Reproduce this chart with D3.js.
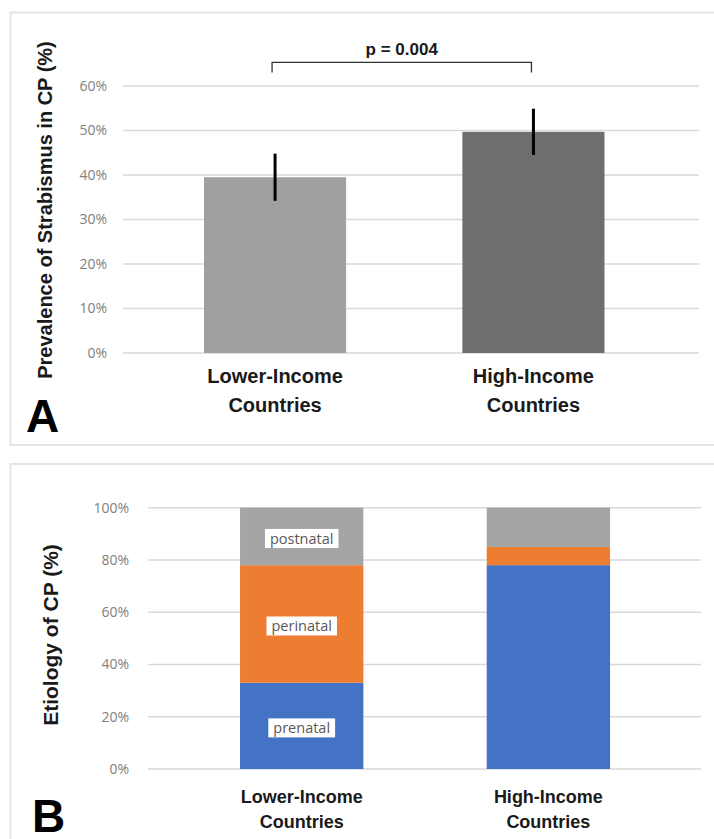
<!DOCTYPE html>
<html>
<head>
<meta charset="utf-8">
<script src="https://cdn.jsdelivr.net/npm/d3@7"></script>
<style>
  body { margin: 0; background: #fff; }
  svg { display: block; }
</style>
</head>
<body>
<svg id="chart"></svg>
<script>
// Panel A data: prevalence of strabismus in CP
const categories = ["Lower-Income Countries", "High-Income Countries"];
const categoryLines = [["Lower-Income", "Countries"], ["High-Income", "Countries"]];
const prevalence = [0.395, 0.497];
const prevalenceErr = [0.053, 0.052];
const prevalenceTicks = [0, 0.1, 0.2, 0.3, 0.4, 0.5, 0.6];
const pValueText = "p = 0.004";
const bracketLevel = 0.653;

// Panel B data: etiology of CP (stacked shares)
const etiologyKeys = ["prenatal", "perinatal", "postnatal"];
const prenatal = [0.33, 0.78];
const perinatal = [0.45, 0.07];
const postnatal = [0.22, 0.15];
const etiologyTicks = [0, 0.2, 0.4, 0.6, 0.8, 1.0];

const width = 714;
const height = 839;
const boldFont = "'Liberation Sans', Arial, sans-serif";
const tickFont = "'Open Sans', 'Liberation Sans', sans-serif";

const svg = d3.select("#chart").attr("width", width).attr("height", height);
svg.append("rect").attr("width", width).attr("height", height).attr("fill", "#fff");

const pct = d3.format(".0%");

// ---------- Panel A ----------
const gA = svg.append("g");
gA.append("rect")
  .attr("x", 10.5).attr("y", 12.5)
  .attr("width", 730).attr("height", 432.5)
  .attr("fill", "none").attr("stroke", "#e4e4e4").attr("stroke-width", 2);

const xA = d3.scaleBand()
  .domain(categories)
  .range([126.5, 682])
  .paddingInner(0.45)
  .paddingOuter(0.3);

const yA = d3.scaleLinear().domain([0, 0.6]).range([353, 86]);

// gridlines
gA.append("g")
  .selectAll("line")
  .data(prevalenceTicks)
  .join("line")
  .attr("x1", 123).attr("x2", 699)
  .attr("y1", d => yA(d)).attr("y2", d => yA(d))
  .attr("stroke", "#d9d9d9").attr("stroke-width", 1.5);

// y axis tick labels
const axisA = gA.append("g")
  .attr("transform", "translate(115,0)")
  .call(d3.axisLeft(yA).tickValues(prevalenceTicks).tickFormat(pct).tickSize(0).tickPadding(8));
axisA.select(".domain").remove();
axisA.selectAll("text")
  .attr("font-family", tickFont).attr("font-size", 14).attr("fill", "#808080");

// bars
const barColorsA = ["#a0a0a0", "#6e6e6e"];
gA.append("g")
  .selectAll("rect")
  .data(categories)
  .join("rect")
  .attr("x", d => xA(d))
  .attr("width", xA.bandwidth())
  .attr("y", (d, i) => yA(prevalence[i]))
  .attr("height", (d, i) => yA(0) - yA(prevalence[i]))
  .attr("fill", (d, i) => barColorsA[i]);

// error bars
gA.append("g")
  .selectAll("line")
  .data(categories)
  .join("line")
  .attr("x1", d => xA(d) + xA.bandwidth() / 2)
  .attr("x2", d => xA(d) + xA.bandwidth() / 2)
  .attr("y1", (d, i) => yA(prevalence[i] - prevalenceErr[i]))
  .attr("y2", (d, i) => yA(prevalence[i] + prevalenceErr[i]))
  .attr("stroke", "#000").attr("stroke-width", 3);

// significance bracket
const bx1 = xA(categories[0]) + xA.bandwidth() / 2 - 3;
const bx2 = xA(categories[1]) + xA.bandwidth() / 2 - 2;
const by = yA(bracketLevel);
gA.append("path")
  .attr("d", `M${bx1},${by + 10}V${by}H${bx2}V${by + 10}`)
  .attr("fill", "none").attr("stroke", "#333").attr("stroke-width", 1.3);
gA.append("text")
  .attr("x", (bx1 + bx2) / 2).attr("y", by - 7)
  .attr("text-anchor", "middle")
  .attr("font-family", boldFont).attr("font-weight", "bold").attr("font-size", 17)
  .attr("fill", "#1a1a1a")
  .text(pValueText);

// category labels
gA.append("g")
  .selectAll("text")
  .data(categories)
  .join("text")
  .attr("text-anchor", "middle")
  .attr("font-family", boldFont).attr("font-weight", "bold").attr("font-size", 20)
  .attr("fill", "#1a1a1a")
  .each(function (d, i) {
    const cx = xA(d) + xA.bandwidth() / 2;
    d3.select(this).selectAll("tspan")
      .data(categoryLines[i])
      .join("tspan")
      .attr("x", cx)
      .attr("y", (t, j) => 383 + j * 29)
      .text(t => t);
  });

// y axis title
gA.append("text")
  .attr("transform", "translate(52,210) rotate(-90)")
  .attr("text-anchor", "middle")
  .attr("font-family", boldFont).attr("font-weight", "bold").attr("font-size", 20)
  .attr("fill", "#1a1a1a")
  .text("Prevalence of Strabismus in CP (%)");

gA.append("text")
  .attr("x", 26).attr("y", 432)
  .attr("font-family", boldFont).attr("font-weight", "bold").attr("font-size", 46)
  .attr("fill", "#000")
  .text("A");

// ---------- Panel B ----------
const gB = svg.append("g");
gB.append("rect")
  .attr("x", 10.5).attr("y", 464)
  .attr("width", 730).attr("height", 420)
  .attr("fill", "none").attr("stroke", "#e4e4e4").attr("stroke-width", 2);

const xB = d3.scaleBand()
  .domain(categories)
  .range([153.7, 696.4])
  .paddingInner(0.5)
  .paddingOuter(0.35);

const yB = d3.scaleLinear().domain([0, 1]).range([769, 507.7]);

gB.append("g")
  .selectAll("line")
  .data(etiologyTicks)
  .join("line")
  .attr("x1", 148).attr("x2", 701)
  .attr("y1", d => yB(d)).attr("y2", d => yB(d))
  .attr("stroke", "#d9d9d9").attr("stroke-width", 1.5);

const axisB = gB.append("g")
  .attr("transform", "translate(137,0)")
  .call(d3.axisLeft(yB).tickValues(etiologyTicks).tickFormat(pct).tickSize(0).tickPadding(8));
axisB.select(".domain").remove();
axisB.selectAll("text")
  .attr("font-family", tickFont).attr("font-size", 14).attr("fill", "#808080");

const etiologyRows = categories.map((c, i) => ({
  category: c,
  prenatal: prenatal[i],
  perinatal: perinatal[i],
  postnatal: postnatal[i]
}));
const stacked = d3.stack().keys(etiologyKeys)(etiologyRows);
const colorB = d3.scaleOrdinal()
  .domain(etiologyKeys)
  .range(["#4472c4", "#ed7d31", "#a5a5a5"]);

gB.append("g")
  .selectAll("g")
  .data(stacked)
  .join("g")
  .attr("fill", d => colorB(d.key))
  .selectAll("rect")
  .data(d => d)
  .join("rect")
  .attr("x", d => xB(d.data.category))
  .attr("width", xB.bandwidth())
  .attr("y", d => yB(d[1]))
  .attr("height", d => yB(d[0]) - yB(d[1]));

// segment labels on first bar
const labelG = gB.append("g");
stacked.forEach(layer => {
  const seg = layer[0];
  const cx = xB(seg.data.category) + xB.bandwidth() / 2;
  const cy = (yB(seg[0]) + yB(seg[1])) / 2 + 2;
  const box = labelG.append("rect").attr("fill", "#fff");
  const txt = labelG.append("text")
    .attr("x", cx).attr("y", cy)
    .attr("text-anchor", "middle")
    .attr("dominant-baseline", "central")
    .attr("font-family", tickFont).attr("font-size", 14.5)
    .attr("fill", "#595959")
    .text(layer.key);
  const bb = txt.node().getBBox();
  box.attr("x", bb.x - 5).attr("y", bb.y)
    .attr("width", bb.width + 10).attr("height", bb.height);
});

gB.append("g")
  .selectAll("text")
  .data(categories)
  .join("text")
  .attr("text-anchor", "middle")
  .attr("font-family", boldFont).attr("font-weight", "bold").attr("font-size", 18)
  .attr("fill", "#1a1a1a")
  .each(function (d, i) {
    const cx = xB(d) + xB.bandwidth() / 2;
    d3.select(this).selectAll("tspan")
      .data(categoryLines[i])
      .join("tspan")
      .attr("x", cx)
      .attr("y", (t, j) => 803 + j * 25)
      .text(t => t);
  });

gB.append("text")
  .attr("transform", "translate(58,635) rotate(-90)")
  .attr("text-anchor", "middle")
  .attr("font-family", boldFont).attr("font-weight", "bold").attr("font-size", 21)
  .attr("fill", "#1a1a1a")
  .text("Etiology of CP (%)");

gB.append("text")
  .attr("x", 32).attr("y", 832)
  .attr("font-family", boldFont).attr("font-weight", "bold").attr("font-size", 46)
  .attr("fill", "#000")
  .text("B");
</script>
</body>
</html>
